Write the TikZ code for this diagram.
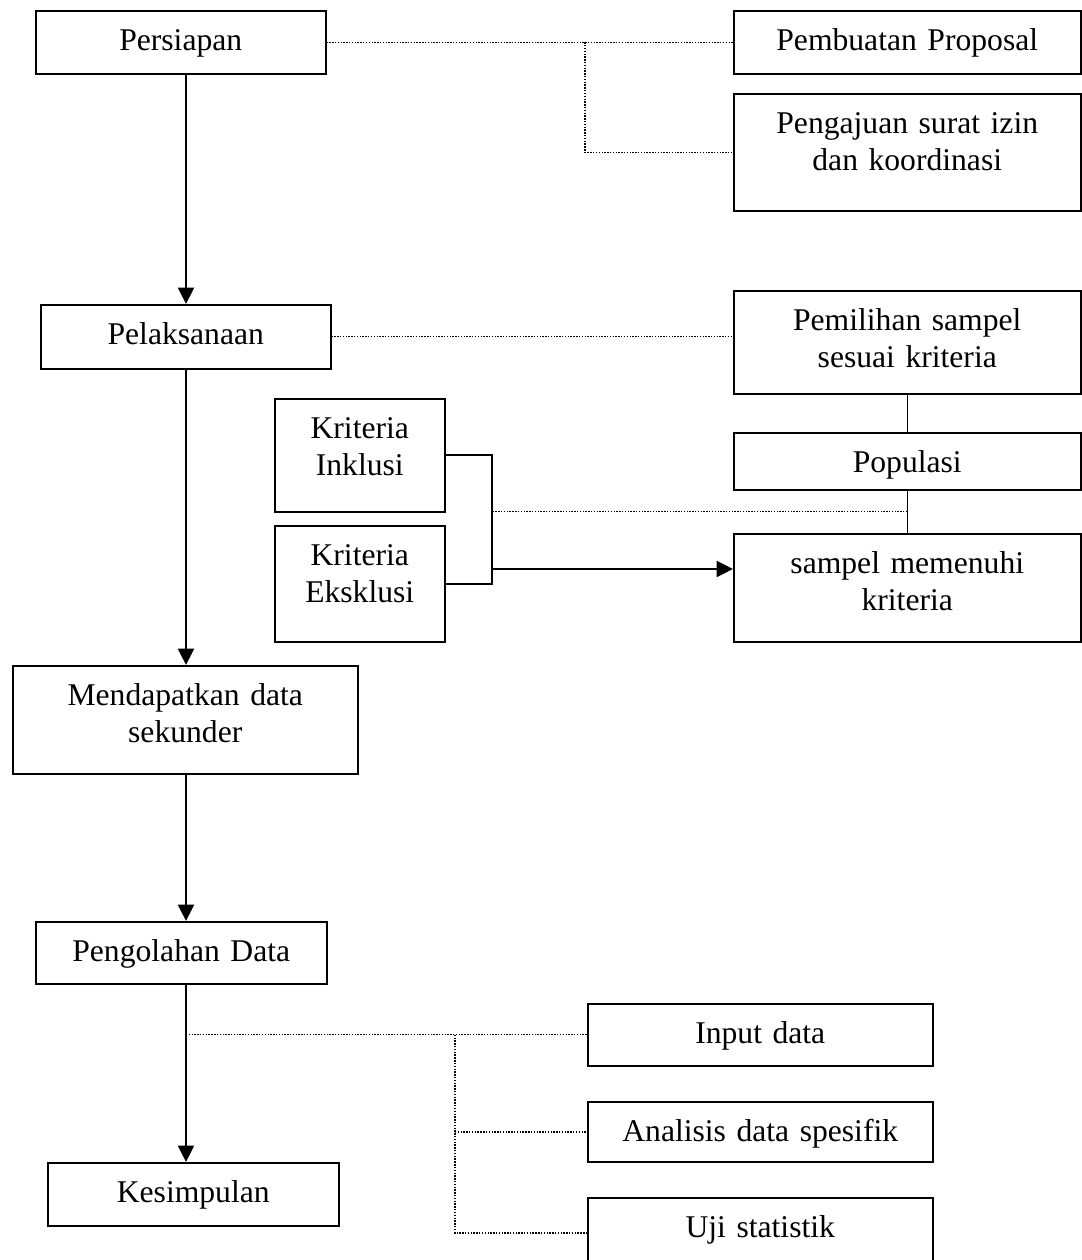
\documentclass[tikz,border=0pt]{standalone}
\usepackage{fontspec}
\setmainfont{Liberation Serif}
\usetikzlibrary{arrows.meta,calc}

\begin{document}
\begin{tikzpicture}[x=0.02cm, y=-0.02cm,
    box/.style={draw, line width=0.9pt, anchor=north west, inner sep=0pt,
      align=center, text height=0.8cm, font=\fontsize{18}{21}\selectfont},
    flow/.style={line width=1.3pt, -{Triangle[length=0.33cm,width=0.32cm]}},
    tie/.style={line width=0.8pt},
    bracket/.style={line width=1.3pt},
    dots/.style={line width=0.8pt, dash pattern=on 0.8pt off 0.8pt}]

  \useasboundingbox (0,0) rectangle (1081,1260);

  % --- main column ---
  \node[box, text width=5.8cm, text depth=0.46cm] (persiapan) at (35,10) {Persiapan};
  \node[box, text width=5.8cm, text depth=0.48cm] (pelaksanaan) at (40,304) {Pelaksanaan};
  \node[box, text width=6.9cm, text depth=1.36cm] (mendapatkan) at (12,665) {Mendapatkan data\\sekunder};
  \node[box, text width=5.82cm, text depth=0.44cm] (pengolahan) at (35,921) {Pengolahan Data};
  \node[box, text width=5.82cm, text depth=0.46cm] (kesimpulan) at (47,1162) {Kesimpulan};

  % --- persiapan branch ---
  \node[box, text width=6.94cm, text depth=0.46cm] (pembuatan) at (733,10) {Pembuatan Proposal};
  \node[box, text width=6.94cm, text depth=1.54cm] (pengajuan) at (733,93) {Pengajuan surat izin\\dan koordinasi};

  % --- pelaksanaan branch ---
  \node[box, text width=6.94cm, text depth=1.26cm] (pemilihan) at (733,290) {Pemilihan sampel\\sesuai kriteria};
  \node[box, text width=6.94cm, text depth=0.34cm] (populasi) at (733,432) {Populasi};
  \node[box, text width=6.94cm, text depth=1.36cm] (sampel) at (733,533) {sampel memenuhi\\kriteria};
  \node[box, text width=3.4cm, text depth=1.46cm] (inklusi) at (274,398) {Kriteria\\Inklusi};
  \node[box, text width=3.4cm, text depth=1.52cm] (eksklusi) at (274,525) {Kriteria\\Eksklusi};

  % --- pengolahan branch ---
  \node[box, text width=6.9cm, text depth=0.44cm] (input) at (587,1003) {Input data};
  \node[box, text width=6.9cm, text depth=0.40cm] (analisis) at (587,1101) {Analisis data spesifik};
  \node[box, text width=6.9cm, text depth=0.60cm] (uji) at (587,1197) {Uji statistik};

  % helper points
  \coordinate (spine) at (186,0);
  \coordinate (brA) at (585,0);
  \coordinate (brB) at (455,0);
  \coordinate (jn) at (492,569);
  \coordinate (popjoin) at ($(populasi.south)!0.5!(sampel.north)$);

  % main flow
  \draw[flow] (persiapan.south -| spine) -- (pelaksanaan.north -| spine);
  \draw[flow] (pelaksanaan.south -| spine) -- (mendapatkan.north -| spine);
  \draw[flow] (mendapatkan.south -| spine) -- (pengolahan.north -| spine);
  \draw[flow] (pengolahan.south -| spine) -- (kesimpulan.north -| spine);

  % persiapan details
  \draw[dots] (persiapan.east) -- (pembuatan.west);
  \draw[dots] (persiapan.east -| brA) |- (pengajuan.west);

  % pelaksanaan details
  \draw[dots] (pelaksanaan.east) -- (pelaksanaan.east -| pemilihan.west);
  \draw[tie] (pemilihan.south) -- (populasi.north);
  \draw[tie] (populasi.south) -- (sampel.north);
  \draw[bracket] (inklusi.east) -| (jn |- eksklusi.east) -- (eksklusi.east);
  \draw[flow] (jn) -- (jn -| sampel.west);
  \draw[dots] (popjoin) -- (popjoin -| jn);

  % pengolahan details
  \draw[dots] (input.west -| spine) -- (input.west);
  \draw[dots] (input.west -| brB) |- (uji.west);
  \draw[dots] (analisis.west -| brB) -- (analisis.west);

\end{tikzpicture}
\end{document}
